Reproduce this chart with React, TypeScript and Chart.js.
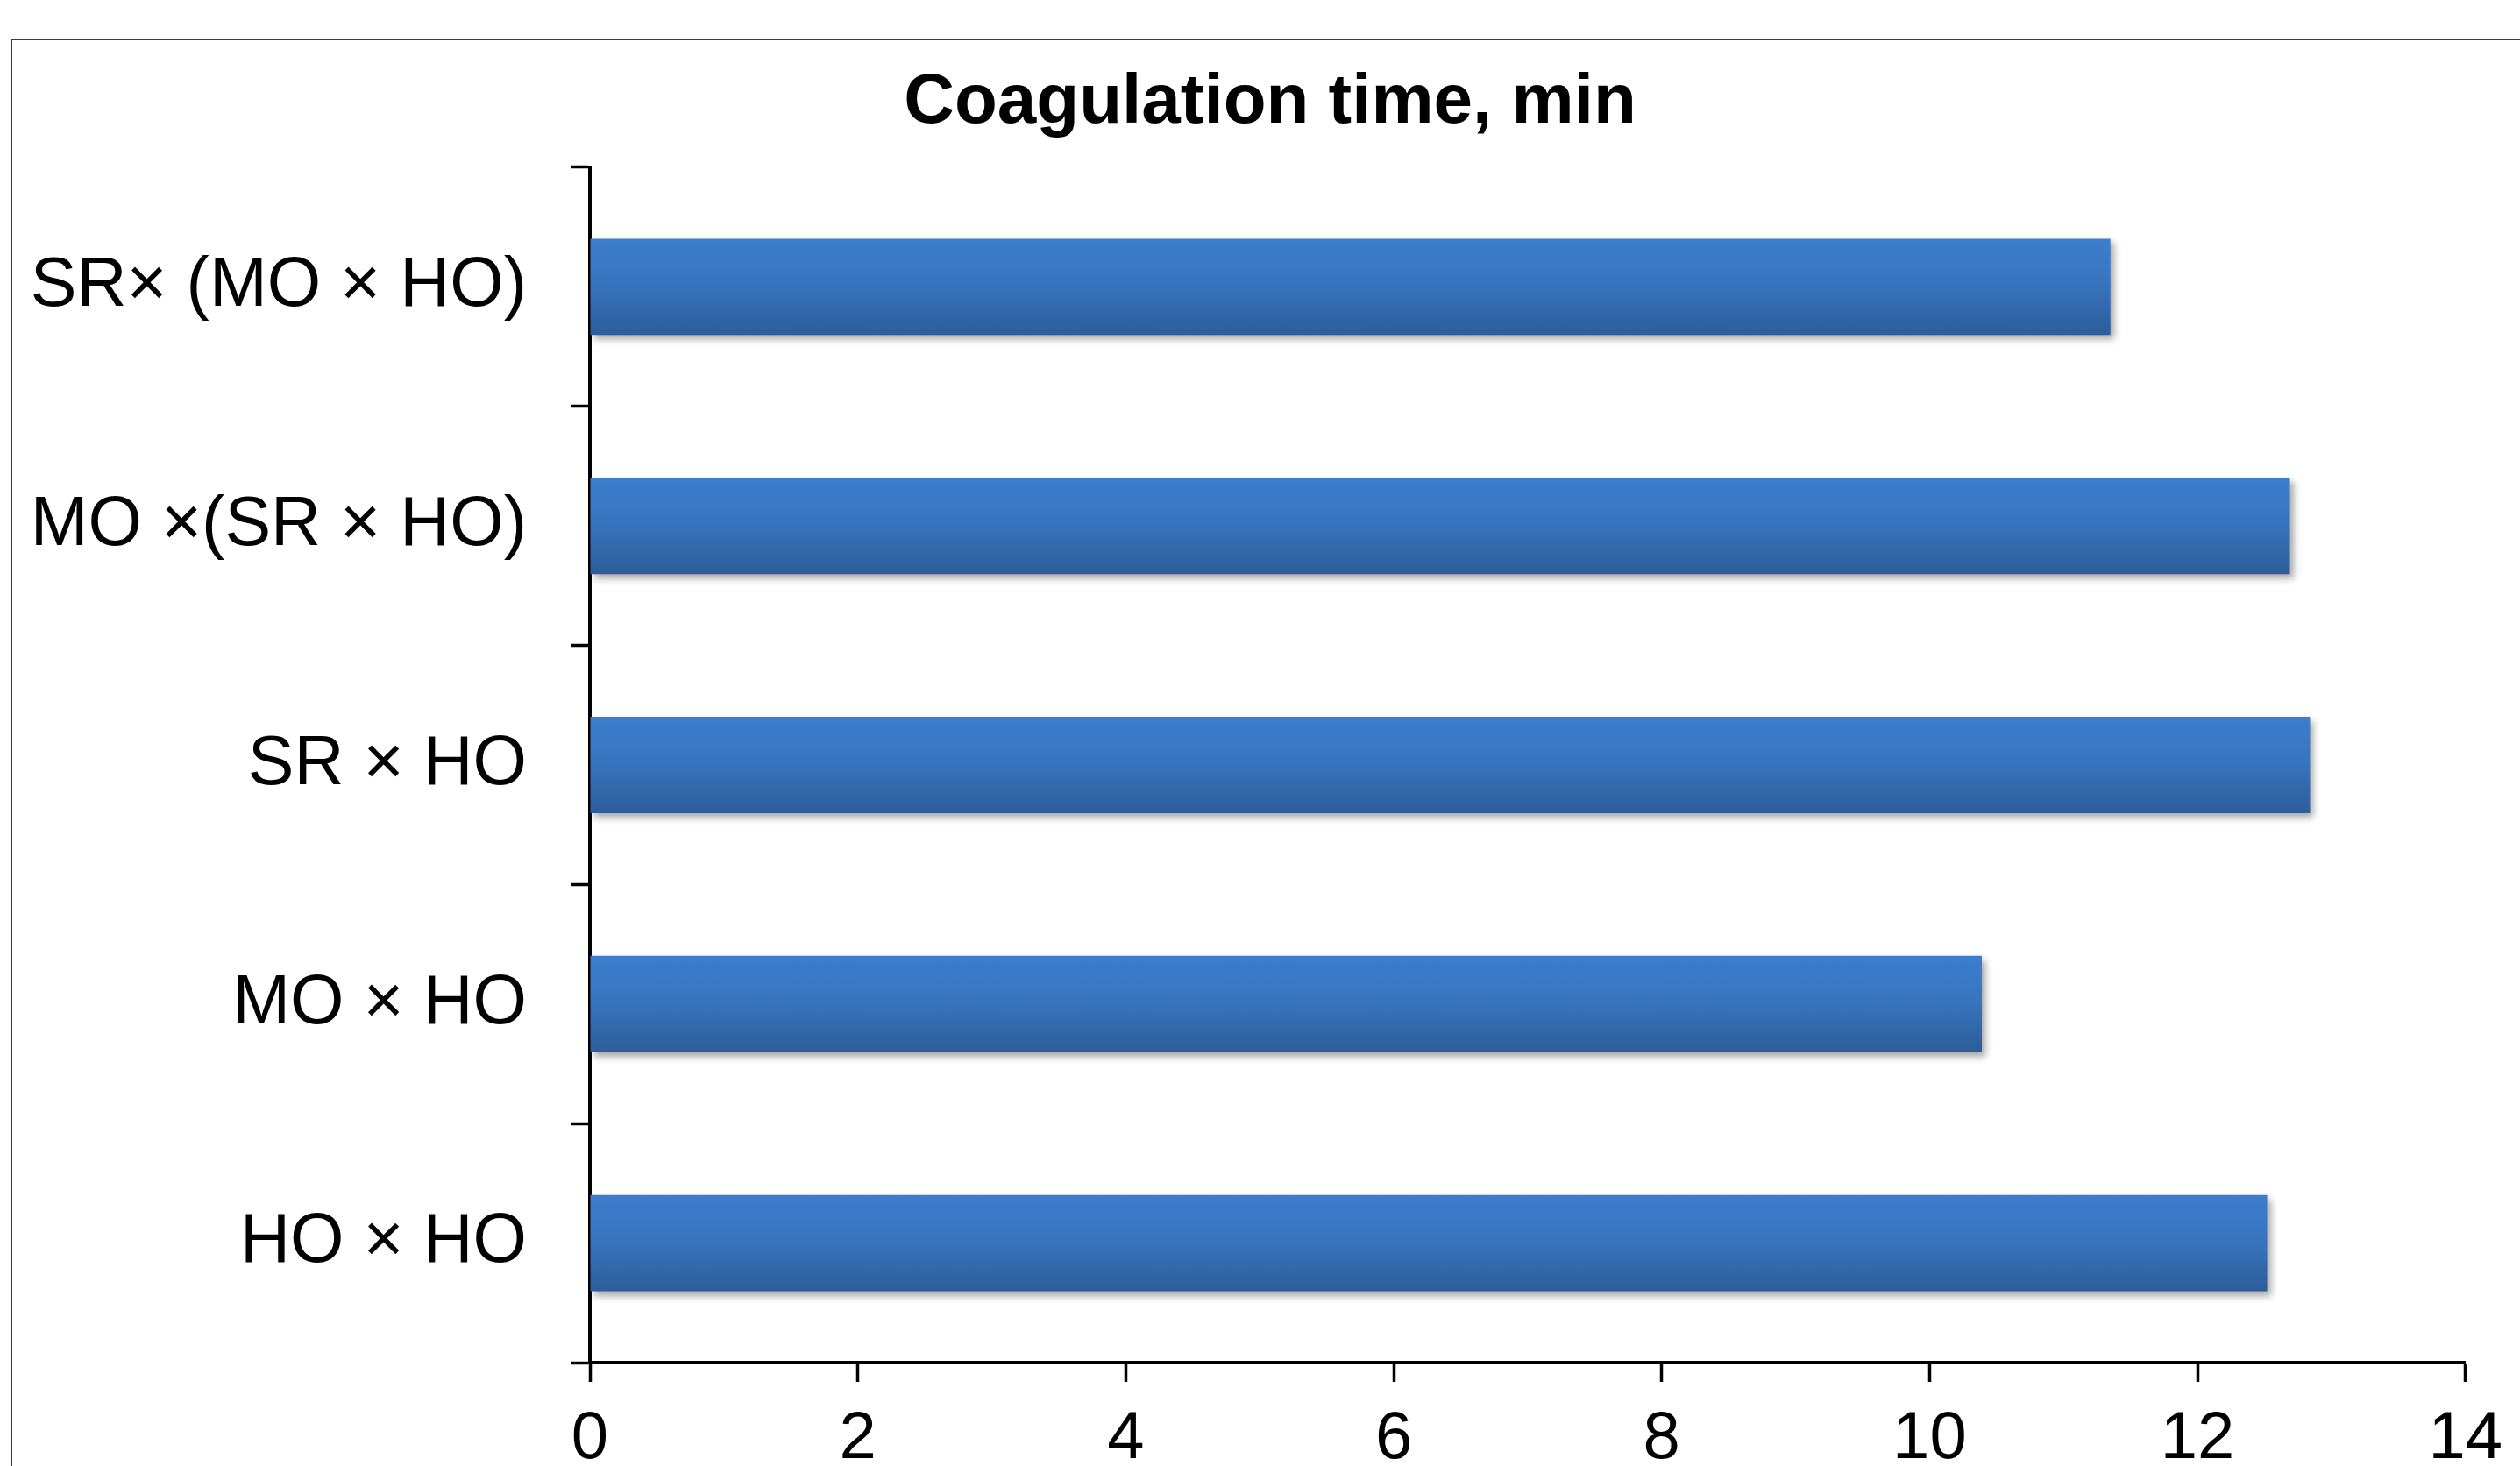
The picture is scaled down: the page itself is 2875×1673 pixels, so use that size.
import React, { useEffect, useRef } from "react";
import { Chart, registerables } from "chart.js";

Chart.register(...registerables);

const categories = ["SR× (MO × HO)", "MO ×(SR × HO)", "SR × HO", "MO × HO", "HO × HO"];
const coagulationTimes = [11.35, 12.69, 12.84, 10.39, 12.52];
const xTickMin = 0;
const xTickMax = 14;
const xTickStep = 2;
const chartTitle = "Coagulation time, min";

const W = 2875;
const H = 1673;
const BAR_PCT = 0.403;
const FONT = '"Liberation Sans", Arial, Helvetica, sans-serif';

const backgroundPlugin = {
  id: "bgAndFrame",
  beforeDraw(chart: any) {
    const ctx = chart.ctx;
    ctx.save();
    ctx.fillStyle = "#ffffff";
    ctx.fillRect(0, 0, chart.width, chart.height);
    ctx.strokeStyle = "#3a3a3a";
    ctx.lineWidth = 2;
    ctx.strokeRect(13, 45, 4000, 4000);
    ctx.restore();
  },
};

const titlePlugin = {
  id: "offsetTitle",
  afterDraw(chart: any) {
    const ctx = chart.ctx;
    ctx.save();
    ctx.fillStyle = "#000";
    ctx.font = `bold 80px ${FONT}`;
    ctx.textAlign = "center";
    ctx.textBaseline = "middle";
    ctx.fillText(chartTitle, 1449, 118);
    ctx.restore();
  },
};

const shadowPlugin = {
  id: "barShadow",
  beforeDatasetsDraw(chart: any) {
    const ctx = chart.ctx;
    ctx.save();
    ctx.shadowColor = "rgba(0,0,0,0.35)";
    ctx.shadowBlur = 8;
    ctx.shadowOffsetX = 4;
    ctx.shadowOffsetY = 5;
  },
  afterDatasetsDraw(chart: any) {
    chart.ctx.restore();
  },
};

export default function App() {
  const ref = useRef<HTMLCanvasElement | null>(null);

  useEffect(() => {
    const canvas = ref.current;
    if (!canvas) return;
    const chart = new Chart(canvas, {
      type: "bar",
      data: {
        labels: categories,
        datasets: [
          {
            data: coagulationTimes,
            barPercentage: BAR_PCT,
            categoryPercentage: 1,
            borderWidth: 0,
            backgroundColor: (c: any) => {
              const fallback = "#3570b5";
              const ch = c.chart;
              const ys = ch.scales && ch.scales.y;
              if (!ys || c.type !== "data" || !ys.height) return fallback;
              const center = ys.getPixelForValue(c.dataIndex);
              const h = (ys.height / categories.length) * BAR_PCT;
              const g = ch.ctx.createLinearGradient(0, center - h / 2, 0, center + h / 2);
              g.addColorStop(0, "#3c7ecd");
              g.addColorStop(0.45, "#3875c0");
              g.addColorStop(1, "#2d5d9a");
              return g;
            },
          },
        ],
      },
      options: {
        indexAxis: "y",
        responsive: false,
        animation: false,
        devicePixelRatio: 1,
        layout: { padding: { left: 0, right: 62, top: 191, bottom: 0 } },
        plugins: {
          legend: { display: false },
          tooltip: { enabled: false },
          title: { display: false },
        },
        scales: {
          x: {
            type: "linear",
            min: xTickMin,
            max: xTickMax,
            afterFit(scale: any) {
              scale.height = 118;
            },
            ticks: {
              stepSize: xTickStep,
              color: "#000",
              padding: 20,
              font: { family: FONT, size: 76 },
            },
            grid: {
              drawOnChartArea: false,
              drawTicks: true,
              tickLength: 22,
              tickWidth: 3.5,
              tickColor: "#000",
            },
            border: { display: true, color: "#000", width: 4 },
          },
          y: {
            type: "category",
            afterFit(scale: any) {
              scale.width = 673;
            },
            ticks: {
              color: "#000",
              padding: 50,
              font: { family: FONT, size: 79 },
            },
            grid: {
              drawOnChartArea: false,
              drawTicks: true,
              tickLength: 22,
              tickWidth: 3.5,
              tickColor: "#000",
            },
            border: { display: true, color: "#000", width: 4 },
          },
        },
      },
      plugins: [backgroundPlugin, shadowPlugin, titlePlugin],
    } as any);
    return () => chart.destroy();
  }, []);

  return (
    <div style={{ position: "absolute", left: 0, top: 0, width: W, height: H }}>
      <canvas ref={ref} width={W} height={H} style={{ display: "block", width: W, height: H }} />
    </div>
  );
}
